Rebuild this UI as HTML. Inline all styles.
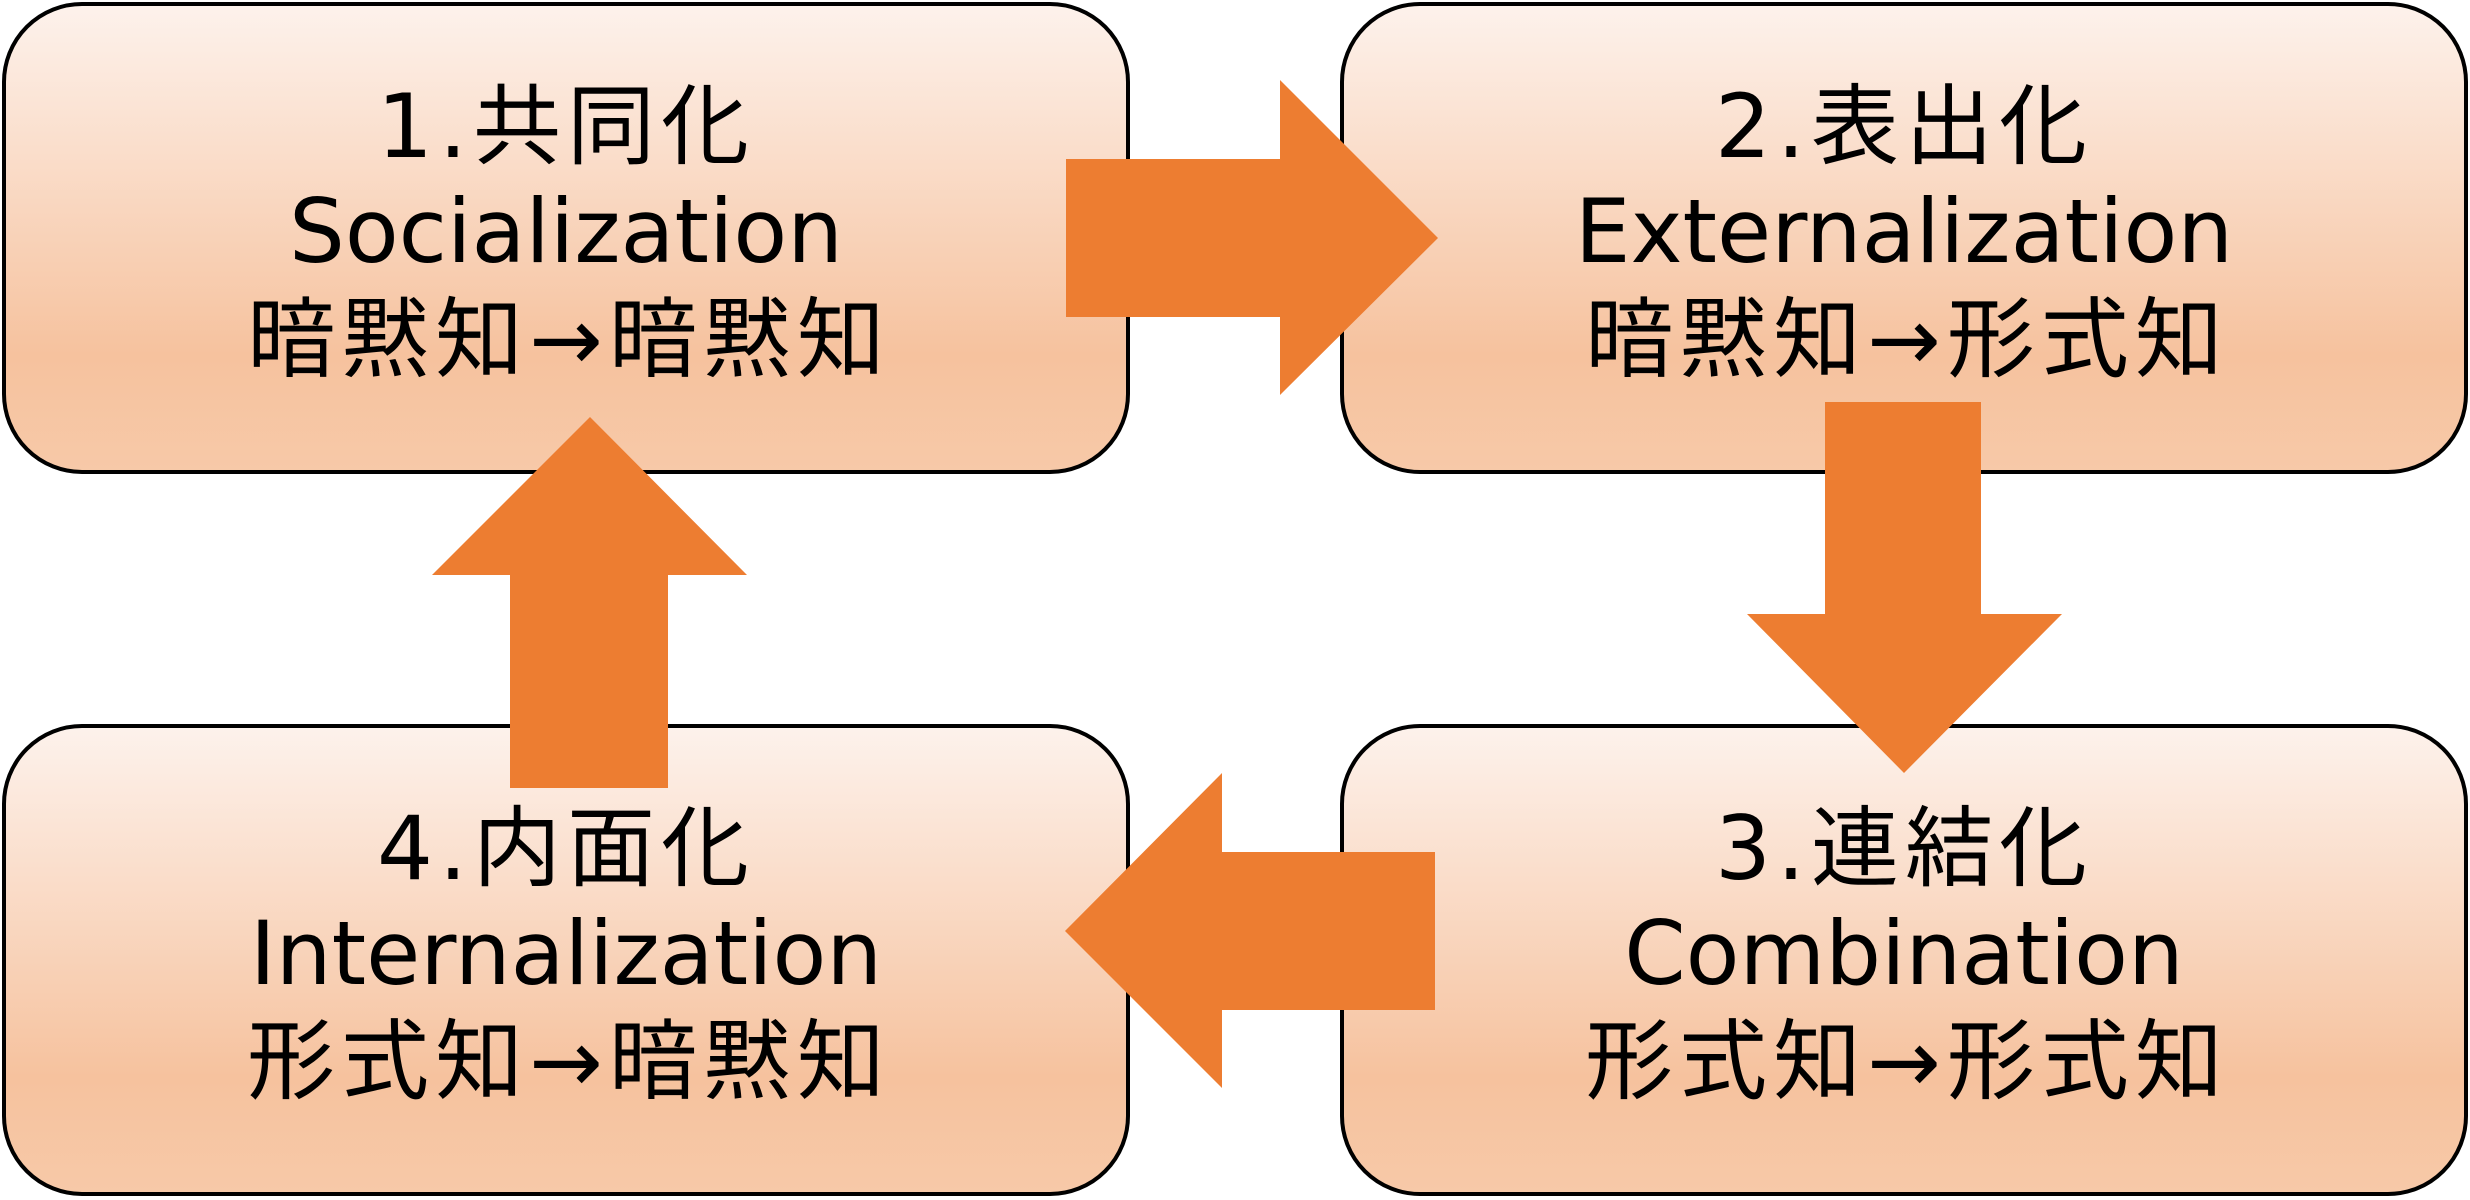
<!DOCTYPE html>
<html><head><meta charset="utf-8"><style>
html,body{margin:0;padding:0;background:#fff;}
svg{display:block}
text{font-family:"DejaVu Sans","Noto Sans CJK JP",sans-serif;font-size:88px;fill:#000;text-anchor:middle}
.j{letter-spacing:6px}
</style></head><body>
<svg width="2470" height="1200" viewBox="0 0 2470 1200" xmlns="http://www.w3.org/2000/svg">
<defs>
<linearGradient id="g" x1="0" y1="0" x2="0" y2="1">
<stop offset="0" stop-color="#fdf2ec"/>
<stop offset="0.75" stop-color="#f6c29e"/>
<stop offset="1" stop-color="#f7c9a8"/>
</linearGradient>
</defs>
<rect x="4" y="4" width="1124" height="468" rx="78" fill="url(#g)" stroke="#000" stroke-width="4"/>
<rect x="1342" y="4" width="1124" height="468" rx="78" fill="url(#g)" stroke="#000" stroke-width="4"/>
<rect x="4" y="726" width="1124" height="468" rx="78" fill="url(#g)" stroke="#000" stroke-width="4"/>
<rect x="1342" y="726" width="1124" height="468" rx="78" fill="url(#g)" stroke="#000" stroke-width="4"/>
<g fill="#ed7d31">
<polygon points="1066,159 1280,159 1280,80 1438,238 1280,395 1280,317 1066,317"/>
<polygon points="1825,402 1981,402 1981,614 2062,614 1904,773 1747,614 1825,614"/>
<polygon points="1435,852 1222,852 1222,773 1065,931 1222,1088 1222,1010 1435,1010"/>
<polygon points="510,788 510,575 432,575 590,417 747,575 668,575 668,788"/>
</g>
<text x="566" y="157" class="j">1.共同化</text>
<text x="566" y="262">Socialization</text>
<text x="569" y="370" class="j">暗黙知→暗黙知</text>
<text x="1904" y="157" class="j">2.表出化</text>
<text x="1904" y="262">Externalization</text>
<text x="1907" y="370" class="j">暗黙知→形式知</text>
<text x="566" y="879" class="j">4.内面化</text>
<text x="566" y="984">Internalization</text>
<text x="569" y="1092" class="j">形式知→暗黙知</text>
<text x="1904" y="879" class="j">3.連結化</text>
<text x="1904" y="984">Combination</text>
<text x="1907" y="1092" class="j">形式知→形式知</text>
</svg>
</body></html>
